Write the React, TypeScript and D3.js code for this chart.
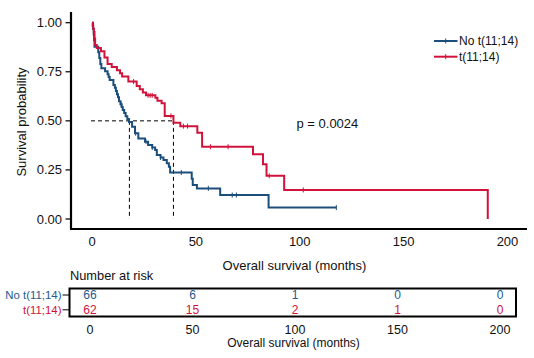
import React from "react";
import * as d3 from "d3";

const blueTimes = [0, 0.5, 0.8, 1.0, 1.2, 3, 3.5, 4, 4.5, 6.3, 7.5, 8, 8.5, 10.3, 11, 11.5, 12, 12.5, 13, 13.7, 14.3, 14.8, 15.5, 16.2, 17, 17.8, 19.3, 20.7, 22.3, 25.5, 27, 29, 30.4, 31.2, 33, 34.4, 36, 37, 37.6, 48, 48.5, 50.5, 61.7, 85, 117.6];
const blueSurv = [1, 0.97, 0.94, 0.91, 0.878, 0.85, 0.82, 0.79, 0.768, 0.753, 0.738, 0.723, 0.708, 0.683, 0.668, 0.652, 0.636, 0.62, 0.6, 0.585, 0.57, 0.555, 0.54, 0.524, 0.51, 0.494, 0.47, 0.437, 0.41, 0.394, 0.377, 0.364, 0.351, 0.326, 0.313, 0.3, 0.284, 0.266, 0.237, 0.205, 0.173, 0.156, 0.122, 0.058, 0.058];
const blueCensor = [14, 21, 26, 29, 33, 43, 56, 67.5, 69.5, 117.6];

const redTimes = [0, 0.3, 0.6, 0.9, 1.2, 1.5, 2.3, 4.3, 6, 7.5, 9.5, 12, 13.5, 14.5, 17.5, 21.5, 23, 24.5, 26, 30.5, 31.5, 33.5, 35, 39.2, 42.5, 50.7, 53, 77.5, 82.3, 84, 92.5, 190.5, 190.5];
const redSurv = [1, 0.984, 0.968, 0.952, 0.919, 0.887, 0.871, 0.855, 0.823, 0.79, 0.774, 0.758, 0.742, 0.726, 0.7, 0.677, 0.661, 0.645, 0.63, 0.618, 0.603, 0.59, 0.525, 0.49, 0.473, 0.44, 0.368, 0.33, 0.279, 0.22, 0.148, 0.148, 0];
const redCensor = [20, 27, 28, 29, 38, 44, 46, 57, 65.5, 85.3, 101.7];

const medians = [18, 39.2];
const groups = ["No t(11;14)", "t(11;14)"];
const riskTimes = [0, 50, 100, 150, 200];
const riskBlue = [66, 6, 1, 0, 0];
const riskRed = [62, 15, 2, 1, 0];
const xTicks = [0, 50, 100, 150, 200];
const yTicks = [0, 0.25, 0.5, 0.75, 1];
const pValue = "p = 0.0024";

const BLUE = "#1c4e7c";
const RED = "#d1123b";
const BLUE_T = "#235a8c";
const FONT = "'Liberation Sans', Arial, sans-serif";

function survAt(times: number[], surv: number[], t: number) {
  let s = surv[0];
  for (let i = 0; i < times.length; i++) if (times[i] <= t) s = surv[i];
  return s;
}

export default function App() {
  const x = d3.scaleLinear().domain([0, 200]).range([92, 507.5]);
  const y = d3.scaleLinear().domain([0, 1]).range([219, 22.7]);
  const xr = d3.scaleLinear().domain([0, 200]).range([90, 500]);
  const line = d3
    .line<[number, number]>()
    .x((d) => x(d[0]))
    .y((d) => y(d[1]))
    .curve(d3.curveStepAfter);
  const bluePts = blueTimes.map((t, i) => [t, blueSurv[i]] as [number, number]);
  const redPts = redTimes.map((t, i) => [t, redSurv[i]] as [number, number]);

  const censorMarks = (times: number[], tt: number[], ss: number[], color: string) =>
    times.map((t, i) => {
      const cx = x(t);
      const cy = y(survAt(tt, ss, t));
      return <line key={i} x1={cx} x2={cx} y1={cy - 2.5} y2={cy + 2.5} stroke={color} strokeWidth={1} />;
    });

  return (
    <svg width={534} height={358} style={{ position: "absolute", left: 0, top: 0, background: "#fff" }} fontFamily={FONT}>
      <rect width={534} height={358} fill="#fff" />
      {/* axes */}
      <line x1={71} x2={71} y1={12} y2={229.5} stroke="#000" strokeWidth={2.2} />
      <line x1={70} x2={527} y1={229} y2={229} stroke="#000" strokeWidth={2.2} />
      {yTicks.map((v) => (
        <g key={v}>
          <line x1={65.5} x2={71} y1={y(v)} y2={y(v)} stroke="#000" strokeWidth={1.2} />
          <text x={62} y={y(v) + 4.5} fontSize={13} textAnchor="end" fill="#111">
            {v.toFixed(2)}
          </text>
        </g>
      ))}
      {xTicks.map((v) => (
        <text key={v} x={x(v)} y={246} fontSize={13} textAnchor="middle" fill="#111">
          {v}
        </text>
      ))}
      <text x={294.5} y={269.5} fontSize={13} textAnchor="middle" fill="#111">
        Overall survival (months)
      </text>
      <text transform="translate(26,122) rotate(-90)" fontSize={13} textAnchor="middle" fill="#111">
        Survival probability
      </text>

      {/* median dashed lines */}
      <g stroke="#000" strokeWidth={1} strokeDasharray="4,3" fill="none">
        <line x1={x(0) - 1} x2={x(medians[1])} y1={y(0.5)} y2={y(0.5)} />
        {medians.map((m) => (
          <line key={m} x1={x(m)} x2={x(m)} y1={y(0.5)} y2={y(0)} />
        ))}
      </g>

      {/* curves */}
      <path d={line(bluePts) || ""} fill="none" stroke={BLUE} strokeWidth={2} />
      {censorMarks(blueCensor, blueTimes, blueSurv, BLUE)}
      <path d={line(redPts) || ""} fill="none" stroke={RED} strokeWidth={2} />
      {censorMarks(redCensor, redTimes, redSurv, RED)}

      {/* legend */}
      {groups.map((g, i) => {
        const ly = 41 + i * 15.7;
        const c = i === 0 ? BLUE : RED;
        return (
          <g key={g}>
            <line x1={434} x2={457.5} y1={ly} y2={ly} stroke={c} strokeWidth={2} />
            <line x1={445.7} x2={445.7} y1={ly - 2.5} y2={ly + 2.5} stroke={c} strokeWidth={1} />
            <text x={459} y={ly + 4.3} fontSize={12} fill="#111">
              {g}
            </text>
          </g>
        );
      })}
      <text x={296.5} y={127.8} fontSize={13} fill="#111">
        {pValue}
      </text>

      {/* risk table */}
      <text x={70} y={280.3} fontSize={12.8} fill="#111">
        Number at risk
      </text>
      <rect x={69.5} y={288.5} width={446.5} height={28} fill="none" stroke="#000" strokeWidth={2} />
      {groups.map((g, i) => {
        const ry = 295 + i * 14.8;
        const c = i === 0 ? BLUE_T : RED;
        return (
          <g key={g}>
            <text x={61.5} y={ry + 4} fontSize={11.4} textAnchor="end" fill={c}>
              {g}
            </text>
            <line x1={62.5} x2={69} y1={ry} y2={ry} stroke="#000" strokeWidth={1} />
          </g>
        );
      })}
      {riskTimes.map((t, i) => (
        <g key={t}>
          <text x={xr(t)} y={299.3} fontSize={12} textAnchor="middle" fill={BLUE_T}>
            {riskBlue[i]}
          </text>
          <text x={xr(t)} y={314.1} fontSize={12} textAnchor="middle" fill={RED}>
            {riskRed[i]}
          </text>
          <text x={xr(t)} y={334} fontSize={12.5} textAnchor="middle" fill="#111">
            {t}
          </text>
        </g>
      ))}
      <text x={293.5} y={346.5} fontSize={12} textAnchor="middle" fill="#111">
        Overall survival (months)
      </text>
    </svg>
  );
}
